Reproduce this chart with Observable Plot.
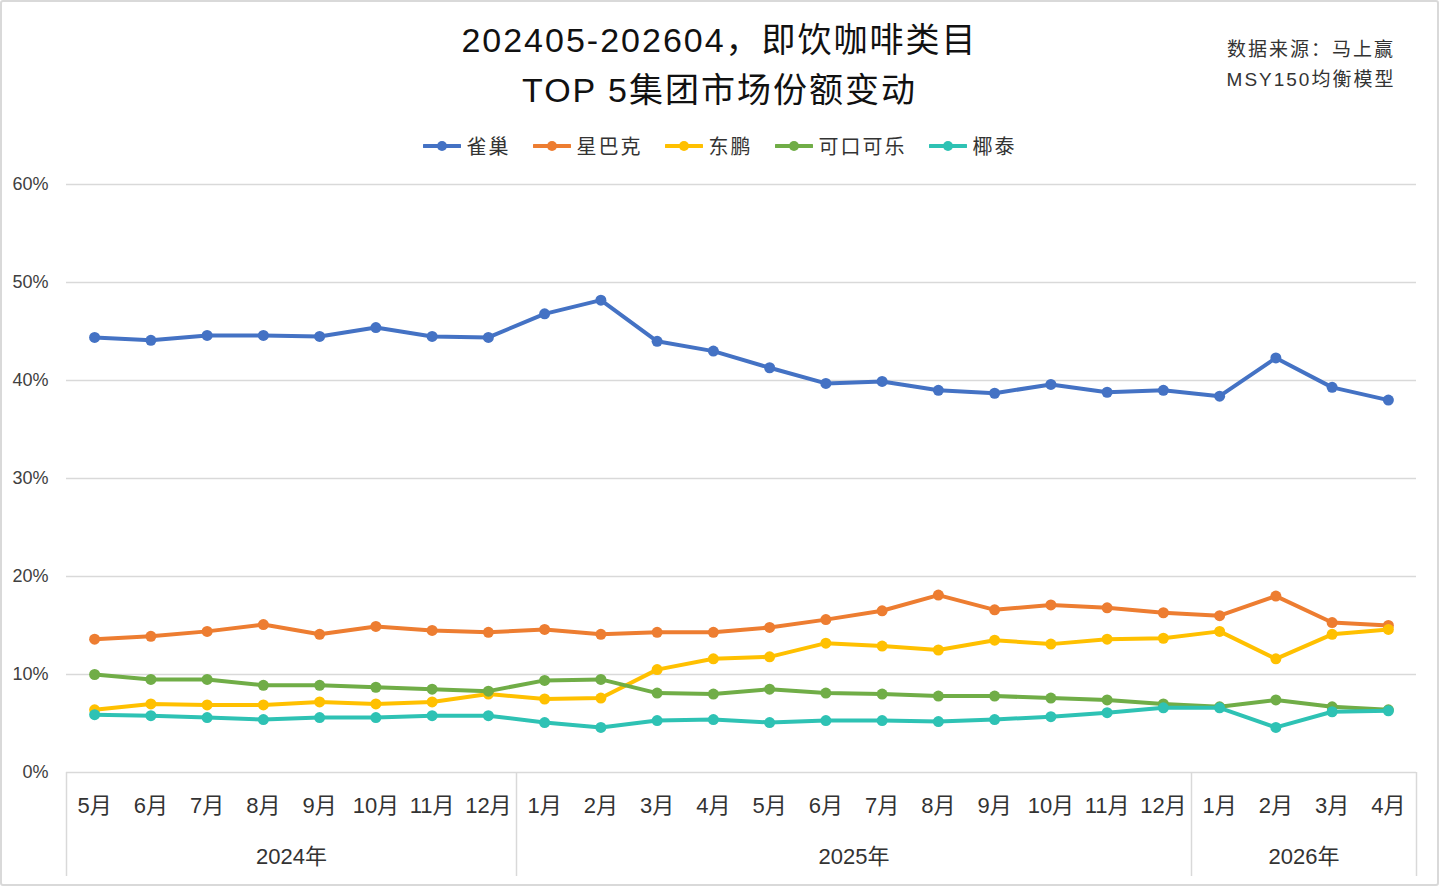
<!DOCTYPE html>
<html>
<head>
<meta charset="utf-8">
<script src="https://cdn.jsdelivr.net/npm/d3@7"></script>
<script src="https://cdn.jsdelivr.net/npm/@observablehq/plot@0.6"></script>
<style>
  html, body { margin: 0; padding: 0; background: #fff; }
  #card { position: relative; width: 1439px; height: 886px; overflow: hidden; background: #fff;
          font-family: "Liberation Sans", "Noto Sans CJK SC", sans-serif; }
  #frame { position: absolute; left: 0; top: 0; width: 1435px; height: 882px; border: 2px solid #d9d9d9; border-radius: 3px; pointer-events: none; }
  #title { position: absolute; left: 0; top: 15px; width: 1439px; text-align: center; font-size: 34px; line-height: 50px; color: #111; letter-spacing: 2px; }
  #source { position: absolute; left: 1196px; top: 35px; width: 230px; text-align: center; font-size: 19px; line-height: 30px; color: #333; letter-spacing: 2px; }
  #legend { position: absolute; left: 0; top: 131px; width: 1439px; display: flex; justify-content: center; align-items: center; font-size: 20px; color: #333; letter-spacing: 2px; }
  #legend .item { display: flex; align-items: center; margin: 0 11px; }
  #legend svg { margin-right: 6px; }
  #chart { position: absolute; left: 0; top: 160px; }
</style>
</head>
<body>
<div id="card">
  <div id="title">202405-202604，即饮咖啡类目<br>TOP 5集团市场份额变动</div>
  <div id="source">数据来源：马上赢<br>MSY150均衡模型</div>
  <div id="legend"></div>
  <div id="chart"></div>
  <div id="frame"></div>
</div>
<script>
// ---- data ----
const monthLabels = ["5月","6月","7月","8月","9月","10月","11月","12月",
  "1月","2月","3月","4月","5月","6月","7月","8月","9月","10月","11月","12月",
  "1月","2月","3月","4月"];
const yearLabels = ["2024年","2025年","2026年"];
const yearCounts = [8, 12, 4];
const seriesNames = ["雀巢","星巴克","东鹏","可口可乐","椰泰"];
const seriesColors = ["#4472C4","#ED7D31","#FFC000","#70AD47","#2EC2B4"];
const nestle    = [44.4,44.1,44.6,44.6,44.5,45.4,44.5,44.4, 46.8,48.2,44.0,43.0,41.3,39.7,39.9,39.0,38.7,39.6,38.8,39.0, 38.4,42.3,39.3,38.0];
const starbucks = [13.6,13.9,14.4,15.1,14.1,14.9,14.5,14.3, 14.6,14.1,14.3,14.3,14.8,15.6,16.5,18.1,16.6,17.1,16.8,16.3, 16.0,18.0,15.3,15.0];
const dongpeng  = [6.4,7.0,6.9,6.9,7.2,7.0,7.2,8.0, 7.5,7.6,10.5,11.6,11.8,13.2,12.9,12.5,13.5,13.1,13.6,13.7, 14.4,11.6,14.1,14.6];
const cocacola  = [10.0,9.5,9.5,8.9,8.9,8.7,8.5,8.3, 9.4,9.5,8.1,8.0,8.5,8.1,8.0,7.8,7.8,7.6,7.4,7.0, 6.7,7.4,6.7,6.4];
const yetai     = [5.9,5.8,5.6,5.4,5.6,5.6,5.8,5.8, 5.1,4.6,5.3,5.4,5.1,5.3,5.3,5.2,5.4,5.7,6.1,6.6, 6.6,4.6,6.2,6.3];
const yTicks = [0,10,20,30,40,50,60];

// ---- derived tables ----
const seriesValues = [nestle, starbucks, dongpeng, cocacola, yetai];
const rowsBySeries = seriesNames.map((name, s) =>
  seriesValues[s].map((v, i) => ({i, series: name, value: v})));

// year group boundaries and centers (index space)
let acc = 0;
const boundaries = [-0.5];
const yearCenters = [];
yearCounts.forEach((c, k) => {
  yearCenters.push(acc + (c - 1) / 2);
  acc += c;
  boundaries.push(acc - 0.5);
});
const centerLabel = new Map(yearCenters.map((c, k) => [c, yearLabels[k]]));

// ---- legend ----
const legend = document.getElementById("legend");
seriesNames.forEach((name, s) => {
  const item = document.createElement("div");
  item.className = "item";
  item.innerHTML = `<svg width="38" height="12"><line x1="1" x2="37" y1="6" y2="6" stroke="${seriesColors[s]}" stroke-width="4" stroke-linecap="round"/><circle cx="19" cy="6" r="5" fill="${seriesColors[s]}"/></svg><span>${name}</span>`;
  legend.appendChild(item);
});

// ---- chart ----
const textColor = "#404040";
const seriesMarks = rowsBySeries.flatMap(rows => [
  Plot.line(rows, {x: "i", y: "value", stroke: "series", strokeWidth: 4, strokeLinejoin: "round", strokeLinecap: "round"}),
  Plot.dot(rows, {x: "i", y: "value", fill: "series", r: 5.5})
]);

const chart = Plot.plot({
  width: 1439,
  height: 726,
  marginLeft: 66,
  marginRight: 23,
  marginTop: 24,
  marginBottom: 114,
  style: {fontFamily: '"Liberation Sans", "Noto Sans CJK SC", sans-serif', background: "transparent", overflow: "visible"},
  x: {type: "linear", domain: [-0.5, yearCounts.reduce((a, b) => a + b) - 0.5]},
  y: {domain: [0, 60]},
  color: {domain: seriesNames, range: seriesColors},
  marks: [
    Plot.ruleY(yTicks, {y: d => d, stroke: "#d9d9d9", strokeWidth: 1.5}),
    Plot.ruleX(boundaries, {x: d => d, y1: 0, y2: 0, insetBottom: -104, stroke: "#d9d9d9", strokeWidth: 1.5}),
    Plot.axisY({ticks: yTicks, tickFormat: d => d + "%", tickSize: 0, tickPadding: 18, fontSize: 18, fill: textColor, label: null}),
    Plot.axisX({ticks: d3.range(monthLabels.length), tickFormat: i => monthLabels[i], tickSize: 0, tickPadding: 25, fontSize: 22, fill: "#333", label: null}),
    Plot.axisX({ticks: yearCenters, tickFormat: c => centerLabel.get(c), tickSize: 0, tickPadding: 76, fontSize: 22, fill: "#333", label: null}),
    ...seriesMarks
  ]
});
document.getElementById("chart").appendChild(chart);
</script>
</body>
</html>
